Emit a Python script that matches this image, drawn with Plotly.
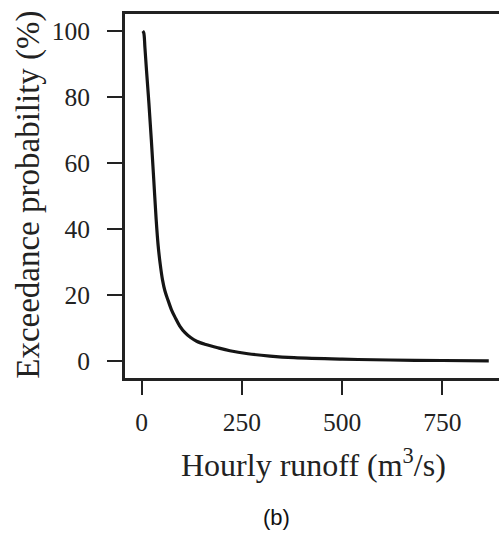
import plotly.graph_objects as go

# Hourly runoff (m3/s) vs exceedance probability (%)
runoff = [2.5, 5, 8, 12, 18, 24, 30, 36, 41, 46, 52, 58, 66, 74, 83, 95, 108, 122, 137, 160, 187, 220, 265, 320, 380, 500, 620, 750, 866]
exceed = [100, 99.5, 95, 88, 78, 67, 55, 43, 35, 29.5, 24.5, 21.2, 18.3, 15.6, 13.3, 10.6, 8.6, 7.1, 6.0, 5.0, 4.1, 3.1, 2.2, 1.5, 1.0, 0.55, 0.3, 0.15, 0.05]

x_ticks = [0, 250, 500, 750]
y_ticks = [0, 20, 40, 60, 80, 100]

serif = "Liberation Serif"
ink = "#222222"

fig = go.Figure()
fig.add_trace(go.Scatter(
    x=runoff, y=exceed, mode="lines",
    line=dict(color="#151515", width=3.2, shape="spline", smoothing=1.0),
    showlegend=False, hoverinfo="skip",
))

fig.update_layout(
    width=499, height=535,
    margin=dict(l=125, r=0, t=14, b=157),
    paper_bgcolor="white", plot_bgcolor="white",
    font=dict(family=serif, size=25.5, color=ink),
    xaxis=dict(
        range=[-41.7, 891.5], tickvals=x_ticks, ticktext=[str(v) for v in x_ticks],
        showgrid=False, zeroline=False,
        showline=True, linecolor="#222222", linewidth=3, mirror=True,
        ticks="outside", ticklen=14, tickwidth=2, tickcolor="#222222",
        ticklabelstandoff=5,
        tickfont=dict(family=serif, size=25.5, color=ink),
    ),
    yaxis=dict(
        range=[-5.15, 105.15], tickvals=y_ticks, ticktext=[str(v) for v in y_ticks],
        showgrid=False, zeroline=False,
        showline=True, linecolor="#222222", linewidth=3, mirror=False,
        ticks="outside", ticklen=15, tickwidth=2, tickcolor="#222222",
        ticklabelstandoff=12,
        tickfont=dict(family=serif, size=25.5, color=ink),
    ),
    annotations=[
        dict(text="Hourly runoff (m<sup>3</sup>/s)", xref="paper", yref="paper",
             x=0.505, y=-0.172, xanchor="center", yanchor="top", showarrow=False,
             font=dict(family=serif, size=32, color=ink)),
        dict(text="Exceedance probability (%)", xref="paper", yref="paper",
             x=-0.258, y=0.502, xanchor="center", yanchor="middle", showarrow=False,
             textangle=-90, font=dict(family=serif, size=33, color=ink)),
        dict(text="(b)", xref="paper", yref="paper",
             x=0.406, y=-0.382, xanchor="center", yanchor="middle", showarrow=False,
             font=dict(family="Liberation Sans", size=22, color="#111111")),
    ],
)

fig.write_html("out.html")
